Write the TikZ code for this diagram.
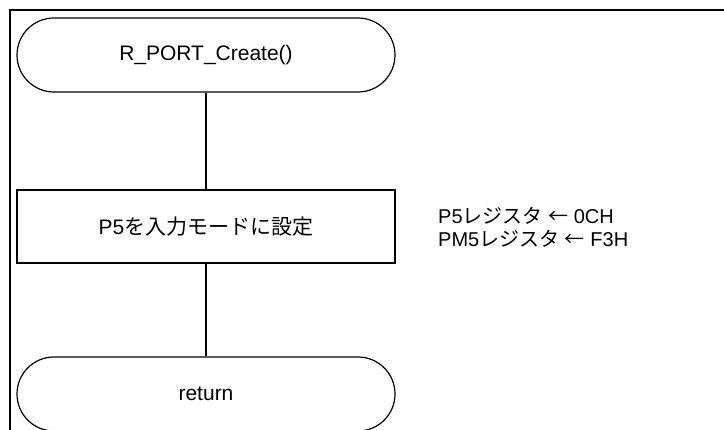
\documentclass[tikz,border=0pt]{standalone}
\usepackage{fontspec}
\setmainfont{Liberation Sans}
\newfontfamily\cjk{Noto Sans CJK JP}
\begin{document}
\begin{tikzpicture}[x=1pt,y=-1pt,
  term/.style={draw,line width=1.2pt,rounded corners=37pt,minimum width=378pt,minimum height=74pt,inner sep=0pt,font=\fontsize{21}{24}\selectfont},
  proc/.style={draw,line width=1.2pt,minimum width=378pt,minimum height=73pt,inner sep=0pt,font=\fontsize{21}{24}\selectfont},
  note/.style={align=left,inner sep=0pt,font=\fontsize{20}{22}\selectfont},
  flow/.style={line width=1.2pt}]
\useasboundingbox (0,0) rectangle (724,430);
\clip (0,0) rectangle (724,430);
\fill[white] (0,0) rectangle (724,430);
\draw[line width=2pt] (10,430) -- (10,10) -- (724,10);
\node[term] (start) at (206,55) {R\_PORT\_Create()};
\node[proc] (p5) at (206,226.5) {P5{\cjk を入力モードに設定}};
\node[term] (ret) at (206,394) {return};
\node[note,anchor=west] (memo) at (438,227) {P5{\cjk レジスタ} {\cjk ←} 0CH\\[1pt]PM5{\cjk レジスタ} {\cjk ←} F3H};
\draw[flow] (start) -- (p5);
\draw[flow] (p5) -- (ret);
\end{tikzpicture}
\end{document}
